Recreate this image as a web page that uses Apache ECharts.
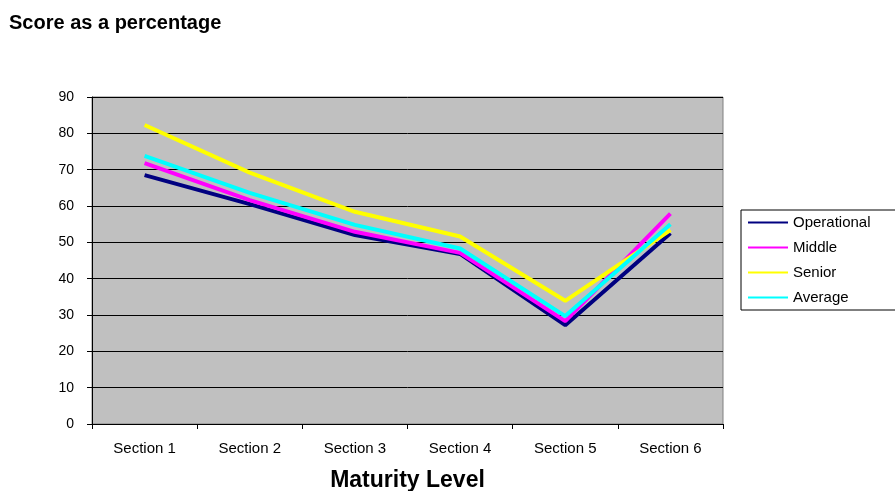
<!DOCTYPE html>
<html>
<head>
<meta charset="utf-8">
<script src="https://cdn.jsdelivr.net/npm/echarts@6/dist/echarts.min.js"></script>
<style>
  html, body { margin: 0; padding: 0; background: #fff; }
  #chart { width: 895px; height: 491px; }
</style>
</head>
<body>
<div id="chart"></div>
<script>
// Section categories along the maturity axis
const categories = ['Section 1', 'Section 2', 'Section 3', 'Section 4', 'Section 5', 'Section 6'];

// Percentage scores per respondent group
const operational = [68.5, 60.5, 52.0, 46.8, 27.2, 52.5];
const middle      = [71.8, 61.6, 52.9, 47.1, 28.3, 57.9];
const senior      = [82.3, 69.2, 58.4, 51.6, 33.9, 53.4];
const average     = [73.8, 63.6, 54.8, 48.3, 29.7, 55.0];

// Y axis range
const yMin = 0, yMax = 90, yStep = 10;

const FONT = '"Liberation Sans", Arial, sans-serif';

const groups = [
  { name: 'Operational', data: operational, color: '#000080' },
  { name: 'Middle',      data: middle,      color: '#FF00FF' },
  { name: 'Senior',      data: senior,      color: '#FFFF00' },
  { name: 'Average',     data: average,     color: '#00FFFF' }
];

const chart = echarts.init(document.getElementById('chart'), null, { renderer: 'canvas' });

chart.setOption({
  animation: false,
  backgroundColor: '#ffffff',
  textStyle: { fontFamily: FONT },
  title: {
    text: 'Score as a percentage',
    left: 9,
    top: 13,
    padding: 0,
    textStyle: { fontFamily: FONT, fontSize: 20, fontWeight: 'bold', color: '#000' }
  },
  grid: {
    left: 92, right: 172, top: 97, bottom: 67,
    containLabel: false,
    outerBoundsMode: 'none',
    show: true,
    backgroundColor: '#C0C0C0',
    borderColor: '#808080',
    borderWidth: 1
  },
  legend: {
    orient: 'vertical',
    left: 741,
    top: 210,
    padding: [5, 40, 5, 7],
    backgroundColor: '#ffffff',
    borderColor: '#000000',
    borderWidth: 1,
    borderRadius: 0,
    itemWidth: 40,
    itemHeight: 2,
    itemGap: 10,
    icon: 'rect',
    data: groups.map(g => g.name),
    textStyle: { fontFamily: FONT, fontSize: 15, color: '#000', lineHeight: 15, padding: [0, 0, 0, 0] }
  },
  xAxis: {
    type: 'category',
    data: categories,
    boundaryGap: true,
    name: 'Maturity Level',
    nameLocation: 'middle',
    nameGap: 45,
    nameTextStyle: { fontFamily: FONT, fontSize: 23, fontWeight: 'bold', color: '#000' },
    axisLine: { lineStyle: { color: '#000', width: 1 } },
    axisTick: { show: true, alignWithLabel: false, length: 5, lineStyle: { color: '#000' } },
    axisLabel: { fontFamily: FONT, fontSize: 15, color: '#000', margin: 17 },
    splitLine: { show: false }
  },
  yAxis: {
    type: 'value',
    min: yMin,
    max: yMax,
    interval: yStep,
    axisLine: { show: true, lineStyle: { color: '#000', width: 1 } },
    axisTick: { show: true, length: 5, lineStyle: { color: '#000' } },
    axisLabel: { fontFamily: FONT, fontSize: 14, color: '#000', margin: 18 },
    splitLine: { show: true, lineStyle: { color: '#000', width: 1 } }
  },
  series: groups.map(g => ({
    name: g.name,
    type: 'line',
    data: g.data,
    symbol: 'none',
    color: g.color,
    lineStyle: { color: g.color, width: 4 },
    itemStyle: { color: g.color }
  }))
});
</script>
</body>
</html>
